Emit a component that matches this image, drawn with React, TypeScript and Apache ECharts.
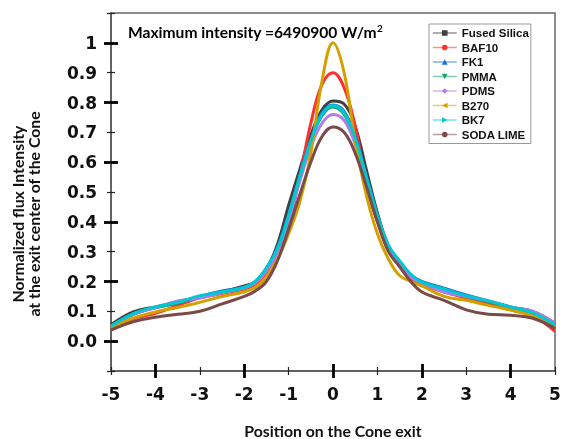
import React, { useEffect, useRef } from "react";
import * as echarts from "echarts";

const positions = [-5, -4.5, -4, -3.5, -3, -2.5, -2, -1.75, -1.5, -1.25, -1, -0.75, -0.5, -0.25, 0, 0.25, 0.5, 0.75, 1, 1.25, 1.5, 1.75, 2, 2.5, 3, 3.5, 4, 4.5, 5];

const fusedSilica = [0.055, 0.098, 0.115, 0.13, 0.15, 0.165, 0.185, 0.198, 0.24, 0.325, 0.455, 0.575, 0.69, 0.775, 0.805, 0.795, 0.72, 0.575, 0.43, 0.315, 0.26, 0.215, 0.195, 0.17, 0.15, 0.132, 0.113, 0.1, 0.06];
const baf10 = [0.04, 0.075, 0.093, 0.12, 0.145, 0.16, 0.175, 0.19, 0.23, 0.3, 0.39, 0.55, 0.73, 0.86, 0.9, 0.85, 0.72, 0.53, 0.4, 0.31, 0.25, 0.21, 0.19, 0.165, 0.145, 0.125, 0.105, 0.085, 0.033];
const fk1 = [0.05, 0.09, 0.113, 0.128, 0.15, 0.168, 0.182, 0.2, 0.245, 0.315, 0.425, 0.555, 0.675, 0.765, 0.792, 0.77, 0.685, 0.555, 0.425, 0.32, 0.265, 0.222, 0.2, 0.178, 0.155, 0.135, 0.115, 0.095, 0.058];
const pmma = [0.048, 0.09, 0.112, 0.128, 0.148, 0.165, 0.18, 0.198, 0.243, 0.31, 0.42, 0.55, 0.67, 0.755, 0.785, 0.76, 0.675, 0.548, 0.42, 0.318, 0.262, 0.22, 0.197, 0.173, 0.15, 0.133, 0.113, 0.093, 0.055];
const pdms = [0.05, 0.09, 0.112, 0.135, 0.145, 0.162, 0.178, 0.195, 0.235, 0.3, 0.405, 0.535, 0.65, 0.73, 0.76, 0.74, 0.66, 0.54, 0.41, 0.31, 0.255, 0.215, 0.195, 0.165, 0.15, 0.135, 0.115, 0.1, 0.06];
const b270 = [0.045, 0.077, 0.098, 0.113, 0.13, 0.15, 0.165, 0.18, 0.215, 0.275, 0.36, 0.465, 0.63, 0.87, 1.0, 0.9, 0.67, 0.49, 0.36, 0.275, 0.22, 0.2, 0.185, 0.15, 0.137, 0.12, 0.104, 0.085, 0.048];
const bk7 = [0.05, 0.092, 0.115, 0.13, 0.152, 0.165, 0.18, 0.2, 0.245, 0.31, 0.42, 0.55, 0.67, 0.76, 0.79, 0.765, 0.68, 0.55, 0.42, 0.32, 0.27, 0.225, 0.198, 0.175, 0.152, 0.135, 0.115, 0.095, 0.055];
const sodaLime = [0.037, 0.065, 0.08, 0.09, 0.1, 0.125, 0.15, 0.168, 0.2, 0.27, 0.375, 0.49, 0.6, 0.685, 0.718, 0.7, 0.63, 0.52, 0.4, 0.3, 0.25, 0.2, 0.165, 0.137, 0.105, 0.09, 0.087, 0.077, 0.043];

const seriesNames = ["Fused Silica", "BAF10", "FK1", "PMMA", "PDMS", "B270", "BK7", "SODA LIME"];
const seriesValues = [fusedSilica, baf10, fk1, pmma, pdms, b270, bk7, sodaLime];
const seriesColors = ["#404040", "#ff3030", "#1a6fdf", "#1fa36e", "#b07de8", "#d4a000", "#00c8d0", "#7a4a48"];
const seriesSymbols = ["rect", "circle", "triangle", "path://M0,0 L10,0 L5,9 Z", "diamond", "path://M10,0 L10,10 L0,5 Z", "path://M0,0 L0,10 L10,5 Z", "circle"];

const titleText = "Maximum intensity =6490900 W/m";
const xName = "Position on the Cone exit";
const yName = "Normalized flux Intensity\nat the exit center of the Cone";

const GL = 111, GR = 8, GT = 13, GB = 68;
const PLOT_H = 439 - GT - GB;
const PLOT_W = 563 - GL - GR;

export default function App() {
  const ref = useRef<HTMLDivElement>(null);
  useEffect(() => {
    if (!ref.current) return;
    const chart = echarts.init(ref.current, null, { renderer: "svg" });
    const labelFont = { fontFamily: "DejaVu Sans", fontWeight: "bold" as const, fontSize: 17, color: "#111" };
    const yUnit = PLOT_H / 1.2;
    const xUnit = PLOT_W / 10;
    const minorTick = { show: true, length: 4, lineStyle: { color: "#222", width: 1.2 } };
    const majorTick = { show: true, length: 7, lineStyle: { color: "#000", width: 2.8 } };
    const noLine = { show: false, onZero: false };
    const base = { outerBoundsMode: "none", containLabel: false };
    const mainRect = { left: GL, right: GR, top: GT, bottom: GB };
    const yMajorRect = { left: GL, right: GR, top: GT + yUnit * 0.1, bottom: GB + yUnit * 0.1 };
    const xMajorRect = { left: GL + xUnit, right: GR + xUnit, top: GT, bottom: GB };
    const tickOnlyX = (grid: number, min: number, max: number, interval: number, tick: any) => ({
      gridIndex: grid, type: "value", min, max, interval, position: "bottom",
      axisLine: noLine, axisTick: tick, axisLabel: { show: false }, splitLine: { show: false },
    });
    const tickOnlyY = (grid: number, min: number, max: number, interval: number, tick: any) => ({
      gridIndex: grid, type: "value", min, max, interval, position: "left",
      axisLine: noLine, axisTick: tick, axisLabel: { show: false }, splitLine: { show: false },
    });
    const hiddenX = (grid: number) => ({ gridIndex: grid, type: "value", min: 0, max: 1, show: false, position: "bottom", axisLine: noLine });
    const hiddenY = (grid: number) => ({ gridIndex: grid, type: "value", min: 0, max: 1, show: false, position: "left", axisLine: noLine });
    chart.setOption({
      animation: false,
      grid: [
        { ...base, ...mainRect, show: true, borderColor: "#666", borderWidth: 1.5 },
        { ...base, ...mainRect },
        { ...base, ...yMajorRect },
        { ...base, ...yMajorRect },
        { ...base, ...xMajorRect },
        { ...base, ...xMajorRect },
      ],
      xAxis: [
        {
          gridIndex: 0, type: "value", min: -5, max: 5, interval: 1, position: "bottom",
          axisLine: { show: true, onZero: false, lineStyle: { color: "#555", width: 1.5 } },
          axisTick: minorTick,
          axisLabel: { ...labelFont, margin: 14 },
          splitLine: { show: false },
          name: xName, nameLocation: "middle", nameGap: 51,
          nameTextStyle: { fontFamily: "Lato", fontWeight: "bold", fontSize: 15.8, lineHeight: 16, color: "#111" },
        },
        tickOnlyX(1, -5, 5, 1, { ...minorTick, inside: true }),
        hiddenX(2),
        hiddenX(3),
        tickOnlyX(4, -4, 4, 2, majorTick),
        tickOnlyX(5, -4, 4, 2, { ...majorTick, inside: true }),
      ],
      yAxis: [
        {
          gridIndex: 0, type: "value", min: -0.1, max: 1.1, interval: 0.1, position: "left",
          axisLine: { show: true, onZero: false, lineStyle: { color: "#555", width: 1.5 } },
          axisTick: minorTick,
          axisLabel: {
            ...labelFont, margin: 14,
            formatter: (v: number) => {
              if (v < -0.05 || v > 1.05) return "";
              if (Math.abs(v - 1) < 1e-6) return "1";
              if (Math.abs(v) < 1e-6) return "0.0";
              return v.toFixed(1);
            },
          },
          splitLine: { show: false },
        },
        tickOnlyY(1, -0.1, 1.1, 0.1, { ...minorTick, inside: true }),
        tickOnlyY(2, 0, 1, 0.2, majorTick),
        tickOnlyY(3, 0, 1, 0.2, { ...majorTick, inside: true }),
        hiddenY(4),
        hiddenY(5),
      ],
      legend: {
        orient: "vertical",
        left: 429, top: 24,
        padding: [3, 2, 3, 3],
        itemWidth: 24, itemHeight: 7, itemGap: 2.5,
        borderColor: "#999", borderWidth: 1,
        lineStyle: { width: 1.5, opacity: 0.55 },
        textStyle: { fontFamily: "Liberation Sans", fontWeight: "bold", fontSize: 11.5, color: "#111", lineHeight: 12 },
        data: seriesNames,
      },
      graphic: [
        {
          type: "text", x: 25.5, y: 214, rotation: Math.PI / 2,
          style: {
            text: yName, align: "center", verticalAlign: "middle",
            fontFamily: "Lato", fontWeight: "bold", fontSize: 15.8, lineHeight: 16, fill: "#111",
          },
        },
        {
          type: "text", x: 128, y: 32,
          style: {
            text: `{a|${titleText}}{s|2}`, align: "left", verticalAlign: "middle",
            rich: {
              a: { fontFamily: "Lato", fontWeight: "bold", fontSize: 15.6, color: "#111", lineHeight: 18 },
              s: { fontFamily: "Lato", fontWeight: "bold", fontSize: 10, color: "#111", lineHeight: 18, verticalAlign: "top", padding: [0, 0, 6, 0] },
            },
          },
        },
      ],
      series: seriesNames.map((name, i) => ({
        name,
        type: "line",
        xAxisIndex: 0,
        yAxisIndex: 0,
        smooth: 0.4,
        symbol: seriesSymbols[i],
        symbolSize: 6,
        showSymbol: false,
        z: 2 + i,
        color: seriesColors[i],
        lineStyle: { color: seriesColors[i], width: 3 },
        data: positions.map((x, j) => [x, seriesValues[i][j]]),
      })),
    });
    return () => chart.dispose();
  }, []);
  return <div ref={ref} style={{ position: "fixed", left: 0, top: 0, width: 563, height: 439 }} />;
}
